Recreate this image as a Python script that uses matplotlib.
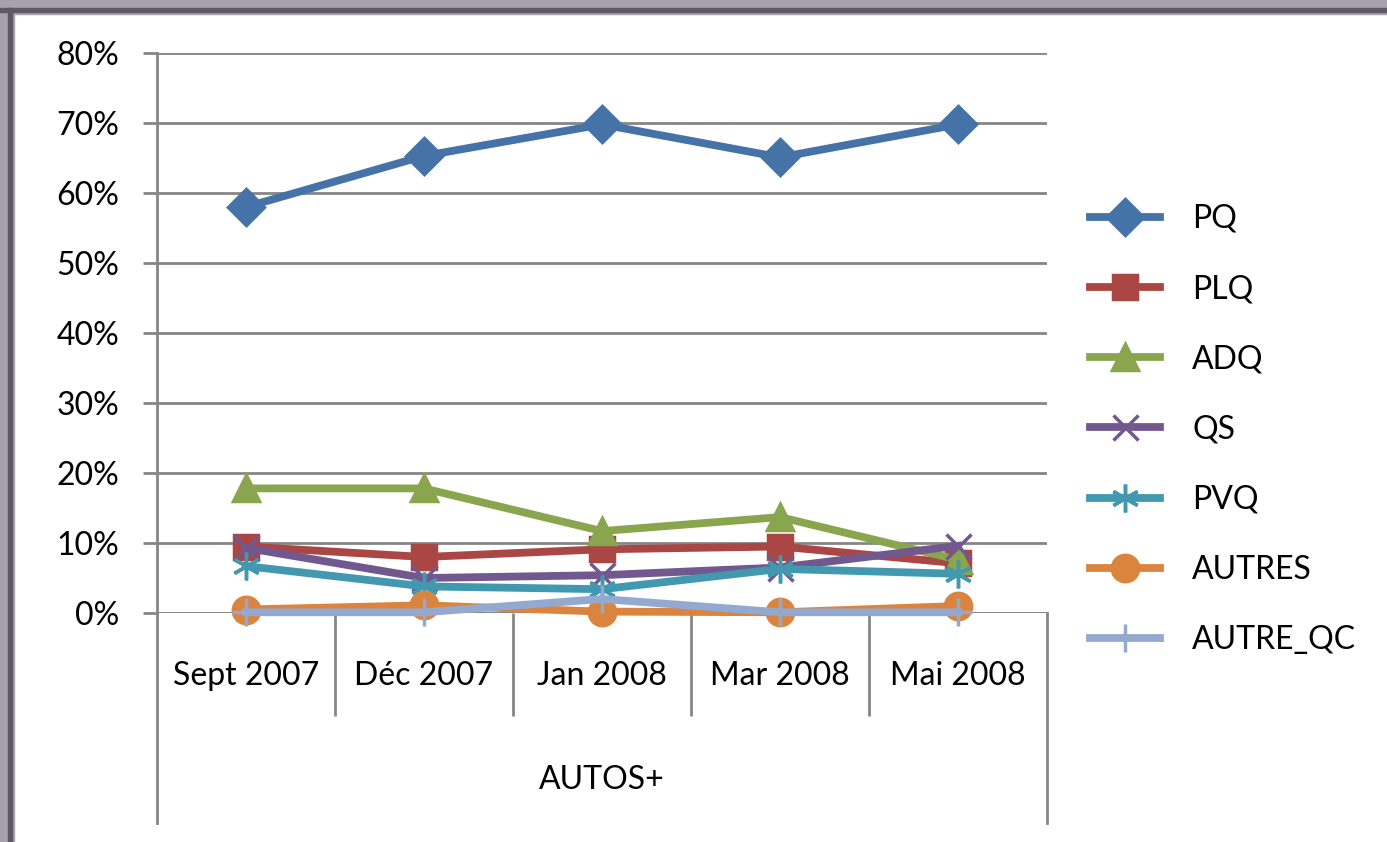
import matplotlib
matplotlib.use("Agg")
import matplotlib.pyplot as plt
import matplotlib.transforms as mtransforms
from matplotlib.patches import Rectangle
from matplotlib.ticker import PercentFormatter

plt.rcParams['font.family'] = ['Lato', 'DejaVu Sans']

months = ['Sept 2007', 'Déc 2007', 'Jan 2008', 'Mar 2008', 'Mai 2008']
group_label = 'AUTOS+'

pq = [58.0, 65.3, 69.8, 65.1, 69.8]
plq = [9.5, 8.0, 9.1, 9.5, 7.1]
adq = [17.8, 17.8, 11.7, 13.7, 7.6]
qs = [9.3, 5.0, 5.4, 6.5, 9.6]
pvq = [6.7, 3.8, 3.4, 6.3, 5.6]
autres = [0.5, 1.1, 0.2, 0.1, 1.0]
autre_qc = [0.1, 0.1, 2.0, 0.1, 0.1]

series = [
    ('PQ', pq, '#4572A7', 'D', 18),
    ('PLQ', plq, '#AA4643', 's', 17),
    ('ADQ', adq, '#89A54E', '^', 19),
    ('QS', qs, '#71588F', 'x', 18),
    ('PVQ', pvq, '#4198AF', (6, 2, 0), 20),
    ('AUTRES', autres, '#DB843D', 'o', 19),
    ('AUTRE_QC', autre_qc, '#93A9CF', '+', 20),
]

fig = plt.figure(figsize=(13.87, 8.42), dpi=100)
ax = fig.add_axes([157 / 1387, 1 - 613 / 842, 890 / 1387, 560 / 842])

x = list(range(len(months)))
for name, vals, col, mk, ms in series:
    ax.plot(x, vals, color=col, lw=5.6, marker=mk, ms=ms, mew=2.5,
            mec=col, mfc=col, label=name, clip_on=False, zorder=3)

ax.set_xlim(-0.5, len(months) - 0.5)
ax.set_ylim(0, 80)
ax.set_yticks(range(0, 81, 10))
ax.yaxis.set_major_formatter(PercentFormatter(decimals=0))
ax.grid(axis='y', color='#868686', lw=2)
ax.set_axisbelow(True)
for s in ['top', 'right', 'bottom']:
    ax.spines[s].set_visible(False)
ax.spines['left'].set_color('#868686')
ax.spines['left'].set_linewidth(2)
ax.tick_params(axis='y', length=10, width=2, color='#868686', pad=17,
               labelsize=23)

# category axis: inner dividers short, outer ones long
ax.set_xticks([i + 0.5 for i in x[:-1]])
ax.set_xticklabels([])
ax.tick_params(axis='x', length=74, width=2, color='#868686', direction='out')
ax.axhline(0, color='#868686', lw=2, zorder=1)
trans = mtransforms.blended_transform_factory(ax.transData, ax.transAxes)
for xb in [-0.5, len(months) - 0.5]:
    ax.plot([xb, xb], [0, -210 / 560], transform=trans, color='#868686',
            lw=2, clip_on=False)
for i, m in enumerate(months):
    ax.text(i, -63 / 560, m, transform=trans, ha='center', va='center',
            fontsize=23)
ax.text((len(months) - 1) / 2, -167 / 560, group_label, transform=trans,
        ha='center', va='center', fontsize=23)

ax.legend(loc='upper left', bbox_to_anchor=(1077 / 1387, 1 - 191 / 842),
          bbox_transform=fig.transFigure, frameon=False, fontsize=23,
          handlelength=2.2, handletextpad=1.0, labelspacing=1.26,
          borderaxespad=0)

# window frame on top and left
fig.patches.append(Rectangle((0, 1 - 14 / 842), 1, 14 / 842,
                             transform=fig.transFigure, color='#a8a2ae', zorder=0))
fig.patches.append(Rectangle((0, 0), 14 / 1387, 1,
                             transform=fig.transFigure, color='#a8a2ae', zorder=0))
fig.patches.append(Rectangle((0, 1 - 12 / 842), 1, 4 / 842,
                             transform=fig.transFigure, color='#5e5a64', zorder=0))
fig.patches.append(Rectangle((8 / 1387, 0), 4 / 1387, 1 - 8 / 842,
                             transform=fig.transFigure, color='#5e5a64', zorder=0))

fig.savefig('out.png', dpi=100)
